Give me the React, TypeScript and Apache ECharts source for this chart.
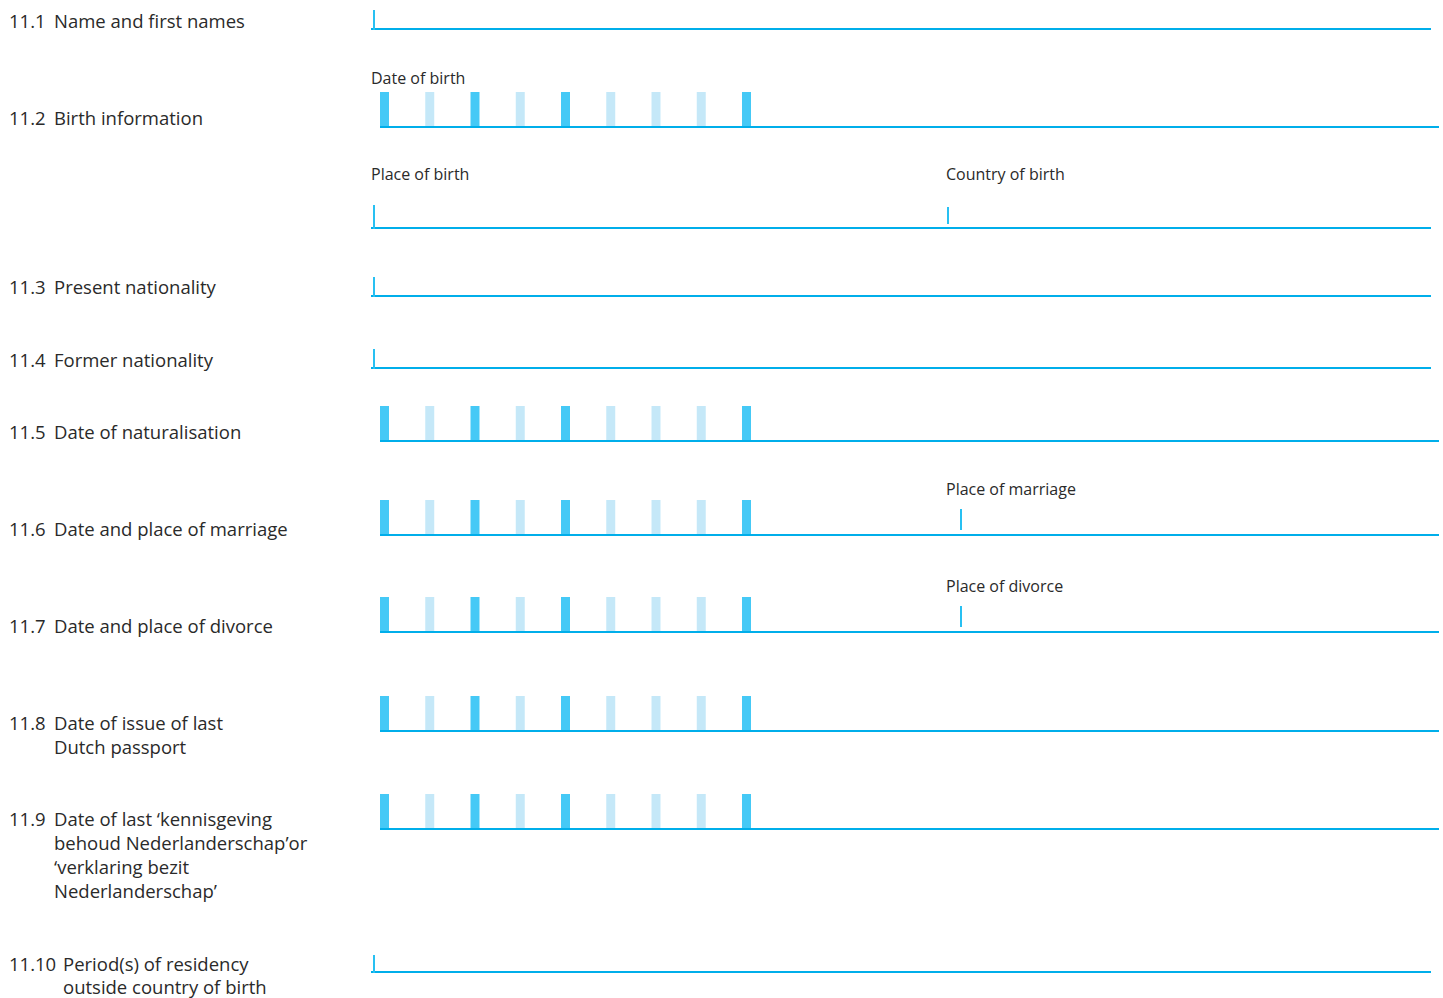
import React, { useEffect, useRef } from "react";
import * as echarts from "echarts";

// ---- content ----
const sectionNumbers = ["11.1", "11.2", "11.3", "11.4", "11.5", "11.6", "11.7", "11.8", "11.9", "11.10"];
const sectionTitles: string[][] = [
  ["Name and first names"],
  ["Birth information"],
  ["Present nationality"],
  ["Former nationality"],
  ["Date of naturalisation"],
  ["Date and place of marriage"],
  ["Date and place of divorce"],
  ["Date of issue of last", "Dutch passport"],
  ["Date of last \u2018kennisgeving", "behoud Nederlanderschap\u2019or", "\u2018verklaring bezit", "Nederlanderschap\u2019"],
  ["Period(s) of residency", "outside country of birth"],
];
const subFieldLabels = ["Date of birth", "Place of birth", "Country of birth", "Place of marriage", "Place of divorce"];
// date boxes: 9 separators, 1 = group boundary (day | month | year), 0 = digit divider
const dateSeparators = [1, 0, 1, 0, 1, 0, 0, 0, 1];
const separatorSlots = ["1", "2", "3", "4", "5", "6", "7", "8", "9"];

// ---- layout ----
const W = 1443;
const H = 998;
const LINE = "#00AEEA";
const DARK = "#45C9F6";
const LIGHT = "#C5E8F8";
const TICK = "#28C0F2";
const TEXT = "#2a2a2a";
const FONT = "'Open Sans', 'Noto Sans', sans-serif";

const labelY = [20, 117, 286, 359, 431, 528, 625, 722, 818, 963];
const titleX = [54, 54, 54, 54, 54, 54, 54, 54, 54, 63];
const lineStep = 24;

// date rows: top of bars and baseline
const dateRowTops = [92, 406, 500, 597, 696, 794];
const barH = 35;
const slotW = 45.25;
const firstBarX = 380;
const barW = 9;

// plain field lines
const plainLines = [
  { y: 29, tickTop: 10, tickX: 374 },
  { y: 228, tickTop: 205, tickX: 374 },
  { y: 296, tickTop: 277, tickX: 374 },
  { y: 368, tickTop: 349, tickX: 374 },
  { y: 972, tickTop: 955, tickX: 374 },
];

export default function App() {
  const ref = useRef<HTMLDivElement>(null);
  useEffect(() => {
    if (!ref.current) return;
    const chart = echarts.init(ref.current, null, { renderer: "svg", width: W, height: H });

    const graphic: any[] = [];
    // section labels
    sectionNumbers.forEach((num, i) => {
      graphic.push({
        type: "text",
        x: 9,
        y: labelY[i],
        style: { text: num, fill: TEXT, font: `18.5px ${FONT}`, textVerticalAlign: "middle" },
      });
      sectionTitles[i].forEach((t, j) => {
        graphic.push({
          type: "text",
          x: titleX[i],
          y: Math.min(labelY[i] + j * lineStep, 986),
          style: { text: t, fill: TEXT, font: `18.5px ${FONT}`, textVerticalAlign: "middle" },
        });
      });
    });

    // sub labels
    const subPos = [
      [371, 78],
      [371, 174],
      [946, 174],
      [946, 489],
      [946, 586],
    ];
    subFieldLabels.forEach((t, i) => {
      graphic.push({
        type: "text",
        x: subPos[i][0],
        y: subPos[i][1],
        style: { text: t, fill: TEXT, font: `16px ${FONT}`, textVerticalAlign: "middle" },
      });
    });

    // plain lines with cursor ticks
    plainLines.forEach((p) => {
      graphic.push({
        type: "line",
        shape: { x1: 371, y1: p.y, x2: 1431, y2: p.y },
        style: { stroke: LINE, lineWidth: 2 },
      });
      graphic.push({
        type: "line",
        shape: { x1: p.tickX, y1: p.tickTop, x2: p.tickX, y2: p.y + 1 },
        style: { stroke: TICK, lineWidth: 2 },
      });
    });
    // country of birth tick
    graphic.push({
      type: "line",
      shape: { x1: 948, y1: 207, x2: 948, y2: 224 },
      style: { stroke: TICK, lineWidth: 2 },
    });
    // marriage / divorce place ticks
    [509, 606].forEach((t) => {
      graphic.push({
        type: "line",
        shape: { x1: 961, y1: t, x2: 961, y2: t + 21 },
        style: { stroke: TICK, lineWidth: 2 },
      });
    });

    // date row baselines
    dateRowTops.forEach((top) => {
      graphic.push({
        type: "line",
        z: 100,
        shape: { x1: 380, y1: top + barH, x2: 1439, y2: top + barH },
        style: { stroke: LINE, lineWidth: 2 },
      });
    });

    // date boxes as bar series, one grid per row
    const grids: any[] = [];
    const xAxes: any[] = [];
    const yAxes: any[] = [];
    const series: any[] = [];
    dateRowTops.forEach((top, gi) => {
      grids.push({
        left: firstBarX + barW / 2 - slotW / 2,
        top,
        width: slotW * separatorSlots.length,
        height: barH,
      });
      xAxes.push({ type: "category", gridIndex: gi, data: separatorSlots, show: false });
      yAxes.push({ type: "value", gridIndex: gi, min: 0, max: 1, show: false });
      series.push({
        type: "bar",
        xAxisIndex: gi,
        yAxisIndex: gi,
        barWidth: barW,
        silent: true,
        data: dateSeparators.map((s) => ({
          value: 1,
          itemStyle: { color: s === 1 ? DARK : LIGHT },
        })),
      });
    });

    chart.setOption({
      animation: false,
      backgroundColor: "#ffffff",
      grid: grids,
      xAxis: xAxes,
      yAxis: yAxes,
      series,
      graphic,
    });
    return () => chart.dispose();
  }, []);
  return (
    <div
      ref={ref}
      style={{ position: "fixed", left: 0, top: 0, width: W, height: H, background: "#fff" }}
    />
  );
}
